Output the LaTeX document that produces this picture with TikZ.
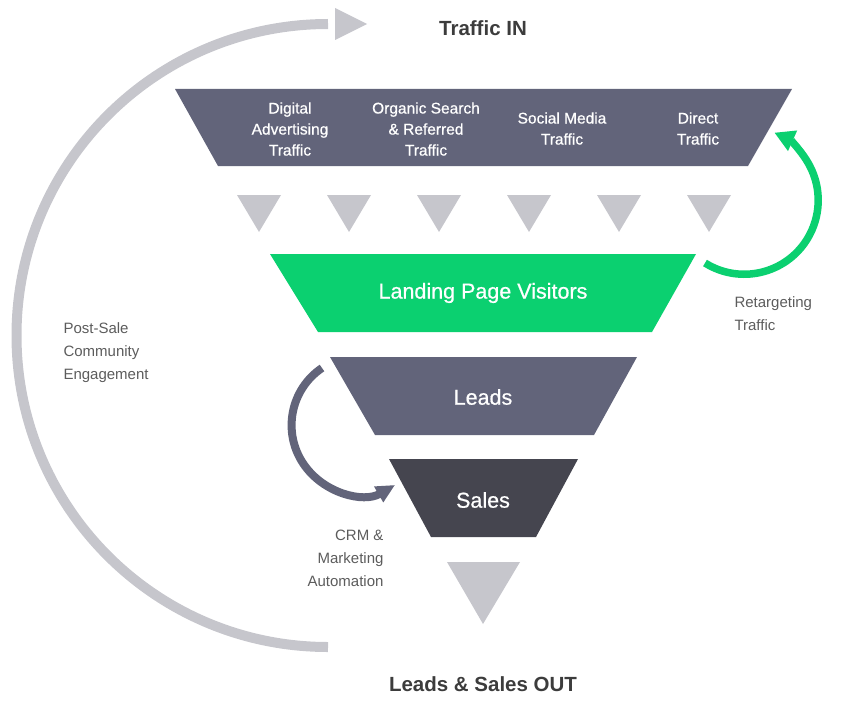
\documentclass[tikz,border=0pt]{standalone}
\usepackage{fontspec}
\setmainfont{Liberation Sans}
\newfontfamily\medfont[FakeBold=0.7]{Liberation Sans}
\usetikzlibrary{arrows.meta}
\definecolor{slate}{HTML}{62647A}
\definecolor{darkslate}{HTML}{45454F}
\definecolor{funnelgreen}{HTML}{0BD070}
\definecolor{softgray}{HTML}{C6C6CC}
\definecolor{notegray}{HTML}{5C5C5C}
\definecolor{titlegray}{HTML}{3C3C3C}

\begin{document}
\begin{tikzpicture}[x=1pt, y=-1pt,
    bandtext/.style={text=white, align=center, font=\medfont\fontsize{15.5}{21}\selectfont},
    stagetext/.style={text=white, font=\medfont\fontsize{21.5}{24}\selectfont},
    note/.style={text=notegray, font=\fontsize{15}{23}\selectfont},
    heading/.style={text=titlegray, font=\bfseries\fontsize{20.5}{24}\selectfont},
    loop/.style={line width=#1}]
\useasboundingbox (0,0) rectangle (850,706);

% funnel bands
\fill[slate] (175,89) -- (792,89) -- (748,166) -- (218,166) -- cycle;
\fill[funnelgreen] (270,254) -- (696,254) -- (652,332) -- (318,332) -- cycle;
\fill[slate] (330,357) -- (637,357) -- (594,435) -- (375,435) -- cycle;
\fill[darkslate] (389,459) -- (578,459) -- (536,537) -- (431,537) -- cycle;

\foreach \x in {259,349,439,529,619,709}
{
    \fill[softgray] (\x-22,195) -- (\x+22,195) -- (\x,232) -- cycle;
}
\fill[softgray] (447,562) -- (520,562) -- (483,624) -- cycle;

\node[heading] (trafficin) at (483,28) {Traffic IN};
\node[heading] (salesout) at (483,684) {Leads \& Sales OUT};

\node[bandtext] (digital) at (290,129) {Digital\\Advertising\\Traffic};
\node[bandtext] (organic) at (426,129) {Organic Search\\\& Referred\\Traffic};
\node[bandtext] (social) at (562,128.5) {Social Media\\Traffic};
\node[bandtext] (direct) at (698,128.5) {Direct\\Traffic};

\node[stagetext] (visitors) at (483,293) {Landing Page Visitors};
\node[stagetext] (leads) at (483,397) {Leads};
\node[stagetext] (sales) at (483,500) {Sales};

\node[note, align=left, anchor=west] (retarget) at (731,313.5) {Retargeting\\Traffic};
\node[note, align=left, anchor=west] (postsale) at (60,353) {Post-Sale\\Community\\Engagement};
\node[note, align=right, anchor=east] (crm) at (387,558.5) {CRM \&\\Marketing\\Automation};

% loops
\coordinate (outend) at (328,647);
\coordinate (inhead) at (335,24);
\coordinate (retargetstart) at (705,263);
\coordinate (crmstart) at (322,368);

\draw[loop=10pt, softgray] (outend) arc[start angle=90, end angle=270, radius=311.5];
\fill[softgray] (inhead) ++(0,-16) -- ++(32,16) -- ++(-32,16) -- cycle;

\draw[loop=7.5pt, funnelgreen, -{Triangle[length=20pt,width=21pt]}]
    (retargetstart) arc[start angle=122, end angle=-66, radius=74];
\draw[loop=8pt, slate, -{Triangle[length=19pt,width=17pt]}]
    (crmstart) arc[start angle=236, end angle=60, radius=69];

\end{tikzpicture}
\end{document}
